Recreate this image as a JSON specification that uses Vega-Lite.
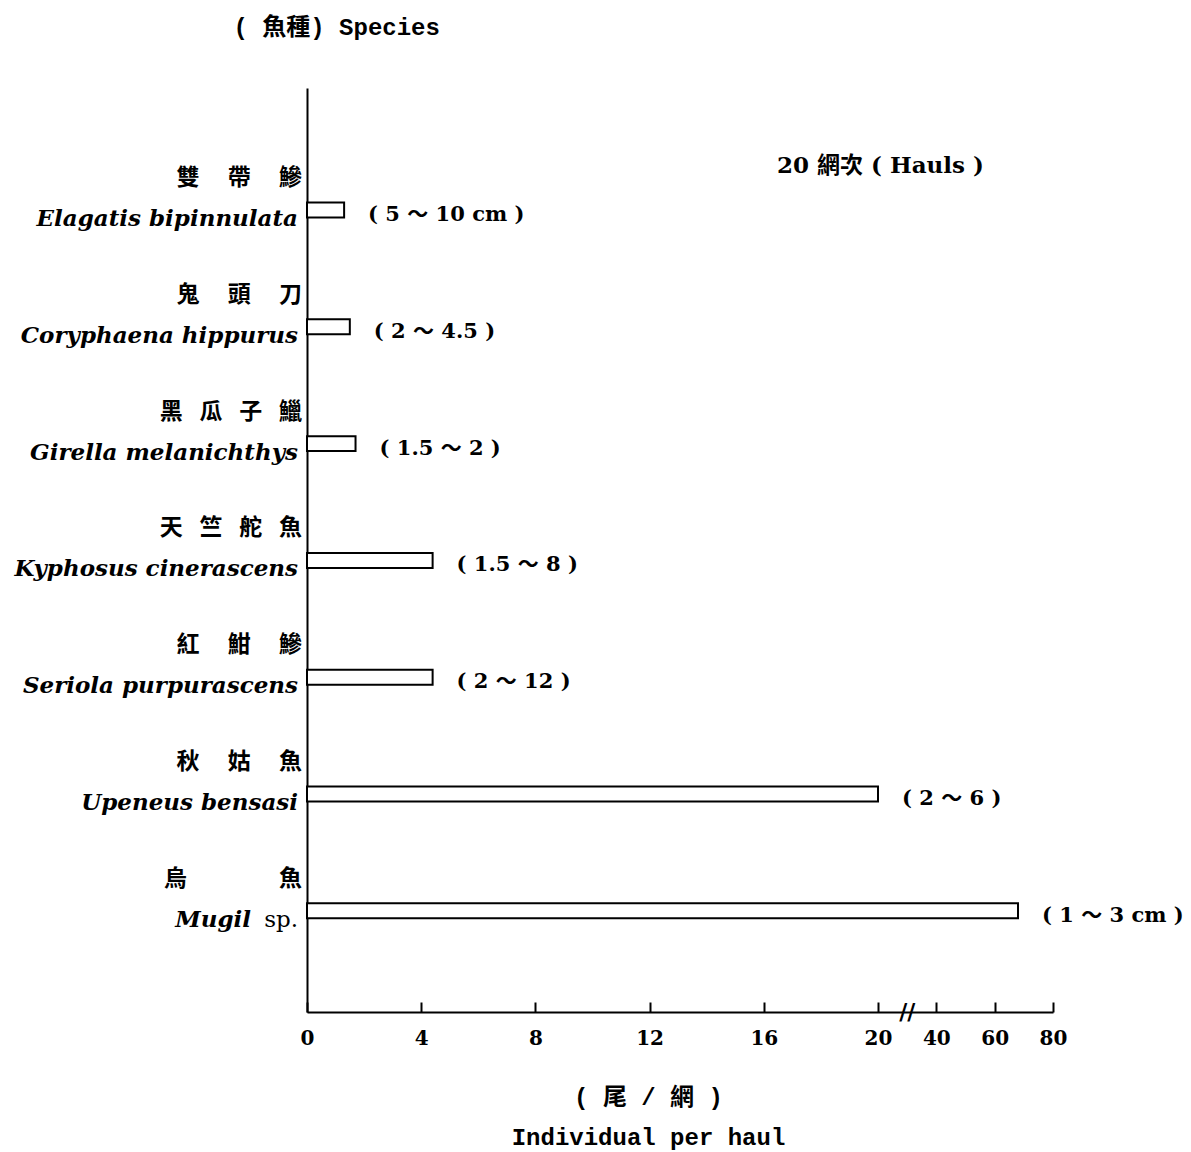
{
  "$schema": "https://vega.github.io/schema/vega-lite/v6.json",
  "width": 746,
  "height": 924,
  "autosize": "none",
  "padding": {"left": 307, "top": 88, "right": 138, "bottom": 140},
  "background": "white",
  "config": {"view": {"stroke": null}, "font": "DejaVu Serif, Noto Sans CJK TC"},
  "title": {
    "text": "20 網次 ( Hauls )",
    "anchor": "start",
    "frame": "group",
    "orient": "top",
    "dx": 470,
    "offset": 0,
    "dy": 174,
    "baseline": "middle",
    "font": "DejaVu Serif, Noto Sans CJK TC",
    "fontSize": 23,
    "fontWeight": "bold",
    "color": "black"
  },
  "data": {
    "values": [
      {"species": "Elagatis bipinnulata", "cn": "雙\u3000 帶\u3000 鰺", "latin": "Elagatis bipinnulata", "suffix": "", "value": 1.3, "range": "( 5 ～ 10 cm )"},
      {"species": "Coryphaena hippurus", "cn": "鬼\u3000 頭\u3000 刀", "latin": "Coryphaena hippurus", "suffix": "", "value": 1.5, "range": "( 2 ～ 4.5 )"},
      {"species": "Girella melanichthys", "cn": "黑\u2002 瓜\u2002 子\u2002 鱲", "latin": "Girella melanichthys", "suffix": "", "value": 1.7, "range": "( 1.5 ～ 2 )"},
      {"species": "Kyphosus cinerascens", "cn": "天\u2002 竺\u2002 舵\u2002 魚", "latin": "Kyphosus cinerascens", "suffix": "", "value": 4.4, "range": "( 1.5 ～ 8 )"},
      {"species": "Seriola purpurascens", "cn": "紅\u3000 魽\u3000 鰺", "latin": "Seriola purpurascens", "suffix": "", "value": 4.4, "range": "( 2 ～ 12 )"},
      {"species": "Upeneus bensasi", "cn": "秋\u3000 姑\u3000 魚", "latin": "Upeneus bensasi", "suffix": "", "value": 20, "range": "( 2 ～ 6 )"},
      {"species": "Mugil sp.", "cn": "烏\u3000\u3000\u3000\u3000魚", "latin": "Mugil", "suffix": "sp.", "value": 68, "range": "( 1 ～ 3 cm )"}
    ]
  },
  "layer": [
    {
      "mark": {"type": "bar", "fill": "white", "stroke": "black", "strokeWidth": 2},
      "encoding": {
        "y": {
          "field": "species", "type": "nominal", "sort": null,
          "scale": {"paddingInner": 0.872, "paddingOuter": 0.8915, "align": 0.55},
          "axis": {
            "title": "( 魚種) Species",
            "labels": false, "ticks": false, "grid": false,
            "domainColor": "black", "domainWidth": 2,
            "titleAngle": 0, "titleAlign": "left", "titleBaseline": "middle",
            "titleX": -74, "titleY": -61,
            "titleFont": "Liberation Mono, Noto Sans CJK TC", "titleFontSize": 24, "titleFontWeight": "bold", "titleColor": "black"
          }
        },
        "x": {
          "field": "value", "type": "quantitative",
          "scale": {"domain": [0, 20, 80], "range": [0, 571, 746]},
          "axis": {
            "values": [0, 4, 8, 12, 16, 20, 40, 60, 80],
            "title": ["( 尾 / 網 )", "Individual per haul"],
            "grid": false,
            "domainColor": "black", "domainWidth": 2,
            "tickColor": "black", "tickWidth": 2, "tickSize": -10,
            "labelPadding": 26, "labelFont": "DejaVu Serif", "labelFontSize": 20, "labelFontWeight": "bold", "labelColor": "black",
            "labelFlush": false, "labelOverlap": false,
            "titleFont": "Liberation Mono, Noto Sans CJK TC", "titleFontSize": 24, "titleFontWeight": "bold", "titleColor": "black",
            "titleLineHeight": 40, "titleX": 341, "titleY": 73, "titleBaseline": "top", "titleAlign": "center"
          }
        }
      }
    },
    {
      "mark": {"type": "text", "align": "right", "baseline": "middle", "dx": -5, "dy": -32, "font": "Noto Sans CJK TC", "fontSize": 23, "fontWeight": "bold", "color": "black"},
      "encoding": {
        "y": {"field": "species", "type": "nominal", "sort": null},
        "x": {"datum": 0, "type": "quantitative"},
        "text": {"field": "cn"}
      }
    },
    {
      "transform": [{"filter": "datum.suffix == ''"}],
      "mark": {"type": "text", "align": "right", "baseline": "middle", "dx": -9, "dy": 9, "font": "DejaVu Serif", "fontSize": 23, "fontWeight": "bold", "fontStyle": "italic", "color": "black"},
      "encoding": {
        "y": {"field": "species", "type": "nominal", "sort": null},
        "x": {"datum": 0, "type": "quantitative"},
        "text": {"field": "latin"}
      }
    },
    {
      "transform": [{"filter": "datum.suffix != ''"}],
      "mark": {"type": "text", "align": "right", "baseline": "middle", "dx": -56, "dy": 9, "font": "DejaVu Serif", "fontSize": 23, "fontWeight": "bold", "fontStyle": "italic", "color": "black"},
      "encoding": {
        "y": {"field": "species", "type": "nominal", "sort": null},
        "x": {"datum": 0, "type": "quantitative"},
        "text": {"field": "latin"}
      }
    },
    {
      "transform": [{"filter": "datum.suffix != ''"}],
      "mark": {"type": "text", "align": "right", "baseline": "middle", "dx": -9, "dy": 9, "font": "DejaVu Serif", "fontSize": 23, "fontWeight": "normal", "color": "black"},
      "encoding": {
        "y": {"field": "species", "type": "nominal", "sort": null},
        "x": {"datum": 0, "type": "quantitative"},
        "text": {"field": "suffix"}
      }
    },
    {
      "mark": {"type": "text", "align": "left", "baseline": "middle", "dx": 24, "dy": 5, "font": "DejaVu Serif, Noto Sans CJK TC", "fontSize": 21, "fontWeight": "bold", "color": "black"},
      "encoding": {
        "y": {"field": "species", "type": "nominal", "sort": null},
        "x": {"field": "value", "type": "quantitative"},
        "text": {"field": "range"}
      }
    },
    {
      "data": {"values": [{"axisBreak": 30, "sym": "//"}]},
      "mark": {"type": "text", "align": "center", "baseline": "middle", "font": "DejaVu Serif", "fontSize": 22, "fontWeight": "bold", "color": "black"},
      "encoding": {
        "x": {"field": "axisBreak", "type": "quantitative"},
        "y": {"value": "height"},
        "text": {"field": "sym"}
      }
    }
  ]
}
